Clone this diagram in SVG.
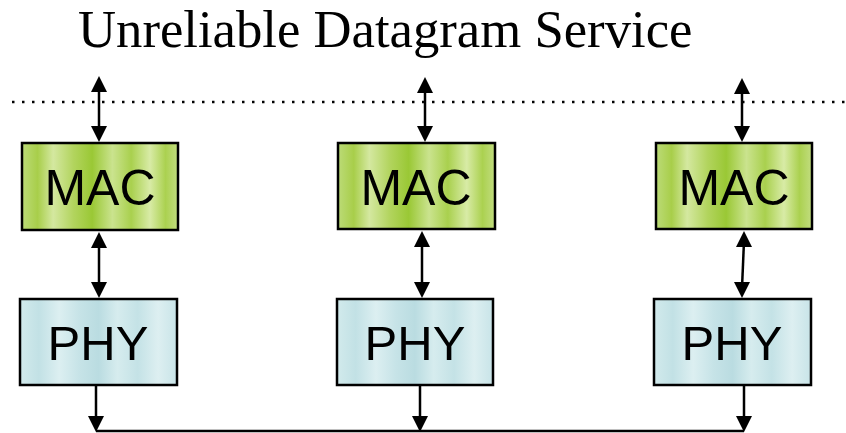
<svg xmlns="http://www.w3.org/2000/svg" width="846" height="433" viewBox="0 0 846 433">
  <style>
    .box { stroke: #000; stroke-width: 2.5; }
    .mac { fill: url(#macFill); }
    .phy { fill: url(#phyFill); }
    .lbl { font-family: "Liberation Sans", Arial, sans-serif; fill: #000; text-anchor: middle; }
    .conn { stroke: #000; stroke-width: 2.5; fill: none; }
    .title { font-family: "Liberation Serif", "Times New Roman", serif; font-size: 52.7px; fill: #000; }
  </style>
  <defs>
    <linearGradient id="macFill" x1="0" y1="0" x2="1" y2="0">
      <stop offset="0" stop-color="#bcdb78"/>
      <stop offset="0.1" stop-color="#a8ce4a"/>
      <stop offset="0.2" stop-color="#d4e8a0"/>
      <stop offset="0.33" stop-color="#b2d45e"/>
      <stop offset="0.45" stop-color="#9ac835"/>
      <stop offset="0.58" stop-color="#cae38e"/>
      <stop offset="0.7" stop-color="#a9d04e"/>
      <stop offset="0.82" stop-color="#d8eba6"/>
      <stop offset="0.92" stop-color="#abd150"/>
      <stop offset="1" stop-color="#c2dd80"/>
    </linearGradient>
    <linearGradient id="phyFill" x1="0" y1="0" x2="1" y2="0">
      <stop offset="0" stop-color="#d2eaec"/>
      <stop offset="0.12" stop-color="#c2e1e5"/>
      <stop offset="0.25" stop-color="#dcefF1"/>
      <stop offset="0.38" stop-color="#c6e3e7"/>
      <stop offset="0.5" stop-color="#badce1"/>
      <stop offset="0.62" stop-color="#d6ecee"/>
      <stop offset="0.75" stop-color="#c4e2e6"/>
      <stop offset="0.88" stop-color="#ddeff1"/>
      <stop offset="1" stop-color="#c8e4e8"/>
    </linearGradient>
    <!-- arrowhead pointing down, tip at (0,0) -->
    <path id="hd" d="M0,0 L-8,-16 L8,-16 Z" fill="#000"/>
    <!-- arrowhead pointing up, tip at (0,0) -->
    <path id="hu" d="M0,0 L-8,16 L8,16 Z" fill="#000"/>
  </defs>

  <text class="title" x="78" y="47">Unreliable Datagram Service</text>

  <line x1="12" y1="102" x2="846" y2="102" stroke="#000" stroke-width="2.5" stroke-dasharray="2.5 7.5"/>

  <g id="mac1">
    <rect class="box mac" x="22" y="143" width="156" height="87"/>
    <text class="lbl" x="100" y="205" font-size="50">MAC</text>
  </g>
  <g id="mac2">
    <rect class="box mac" x="338" y="143" width="157" height="86"/>
    <text class="lbl" x="416" y="205" font-size="50">MAC</text>
  </g>
  <g id="mac3">
    <rect class="box mac" x="656" y="143" width="156" height="86"/>
    <text class="lbl" x="734" y="205" font-size="50">MAC</text>
  </g>

  <g id="phy1">
    <rect class="box phy" x="20" y="299" width="157" height="86"/>
    <text class="lbl" x="98" y="360" font-size="49">PHY</text>
  </g>
  <g id="phy2">
    <rect class="box phy" x="337" y="299" width="156" height="86"/>
    <text class="lbl" x="415" y="360" font-size="49">PHY</text>
  </g>
  <g id="phy3">
    <rect class="box phy" x="654" y="299" width="157" height="86"/>
    <text class="lbl" x="732" y="360" font-size="49">PHY</text>
  </g>

  <g id="connectors">
    <line class="conn" x1="99" y1="86" x2="99" y2="132"/>
    <use href="#hu" x="99" y="76"/><use href="#hd" x="99" y="142"/>
    <line class="conn" x1="425" y1="87" x2="425" y2="132"/>
    <use href="#hu" x="425" y="77"/><use href="#hd" x="425" y="142"/>
    <line class="conn" x1="742" y1="88" x2="742" y2="132"/>
    <use href="#hu" x="742" y="78"/><use href="#hd" x="742" y="142"/>

    <line class="conn" x1="99" y1="242" x2="99" y2="288"/>
    <use href="#hu" x="99" y="232"/><use href="#hd" x="99" y="298"/>
    <line class="conn" x1="422" y1="241" x2="422" y2="288"/>
    <use href="#hu" x="422" y="231"/><use href="#hd" x="422" y="298"/>
    <line class="conn" x1="744" y1="241" x2="742" y2="288"/>
    <use href="#hu" x="744" y="231"/><use href="#hd" x="742" y="298"/>

    <line class="conn" x1="96" y1="386" x2="96" y2="420"/>
    <use href="#hd" x="96" y="432"/>
    <line class="conn" x1="420" y1="386" x2="420" y2="420"/>
    <use href="#hd" x="420" y="432"/>
    <line class="conn" x1="744" y1="386" x2="744" y2="420"/>
    <use href="#hd" x="744" y="432"/>

    <line class="conn" x1="96" y1="431" x2="744" y2="431"/>
  </g>
</svg>
